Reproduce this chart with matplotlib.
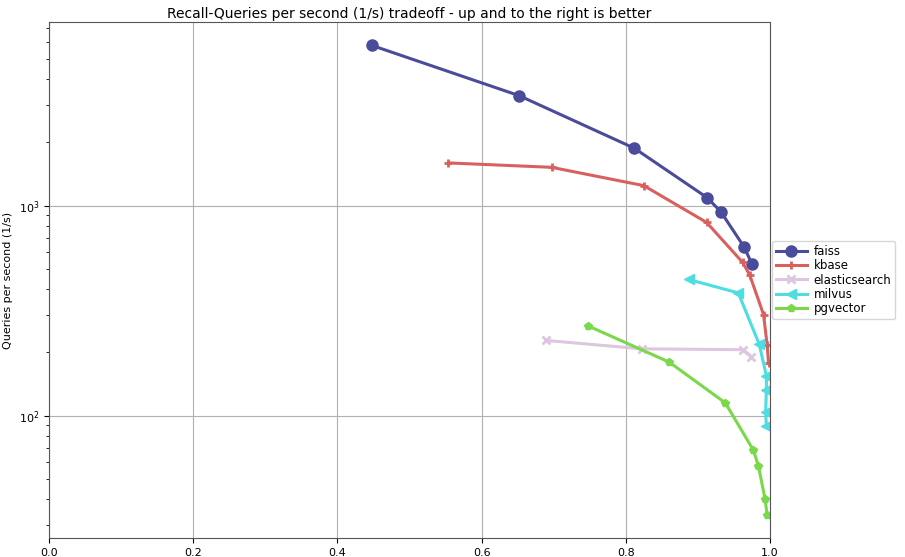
import matplotlib
matplotlib.use("Agg")
import matplotlib.pyplot as plt

# data
faiss_recall = [0.448, 0.652, 0.812, 0.913, 0.932, 0.964, 0.975]
faiss_qps = [5790, 3340, 1875, 1090, 933, 636, 527]

kbase_recall = [0.554, 0.697, 0.825, 0.912, 0.962, 0.972, 0.991, 0.996, 0.998]
kbase_qps = [1597, 1522, 1245, 832, 537, 466, 303, 218, 178]

es_recall = [0.690, 0.822, 0.963, 0.974]
es_qps = [228, 208, 206, 191]

milvus_recall = [0.887, 0.956, 0.985, 0.995, 0.995, 0.994, 0.995]
milvus_qps = [445, 384, 219, 155, 133, 104, 89]

pg_recall = [0.747, 0.860, 0.938, 0.977, 0.984, 0.993, 0.996]
pg_qps = [268, 180, 115, 68.4, 57.4, 40.3, 33.8]

series = [
    ("faiss", faiss_recall, faiss_qps, "#4b4b9b", "o", 8, 1),
    ("kbase", kbase_recall, kbase_qps, "#d9605f", "+", 6, 2),
    ("elasticsearch", es_recall, es_qps, "#dcc6e0", "x", 6, 2),
    ("milvus", milvus_recall, milvus_qps, "#4edde0", "<", 7, 1),
    ("pgvector", pg_recall, pg_qps, "#7ad94b", "p", 6, 1),
]

fig = plt.figure(figsize=(9.05, 5.57), dpi=100)
ax = fig.add_subplot(111)
fig.subplots_adjust(left=49/905, right=770/905, top=1-22/557, bottom=1-538/557)

for name, xs, ys, color, marker, ms, mew in series:
    ax.plot(xs, ys, color=color, marker=marker, markersize=ms, linewidth=2.2,
            markeredgewidth=mew, label=name)

ax.set_yscale("log")
ax.set_xlim(0, 1.0)
ax.set_title("Recall-Queries per second (1/s) tradeoff - up and to the right is better",
             fontsize=10, pad=3)
ax.set_ylabel("Queries per second (1/s)", fontsize=8)
ax.tick_params(labelsize=8)
for sp in ax.spines.values():
    sp.set_color("#555555")
ax.grid(True, which="major", color="#b0b0b0", linewidth=0.8)
ax.legend(loc="center left", bbox_to_anchor=(1, 0.5), fontsize=8.5,
          borderaxespad=0.2, handlelength=2.6, labelspacing=0.12,
          borderpad=0.3, handletextpad=0.6)

fig.savefig("out.png", dpi=100)
